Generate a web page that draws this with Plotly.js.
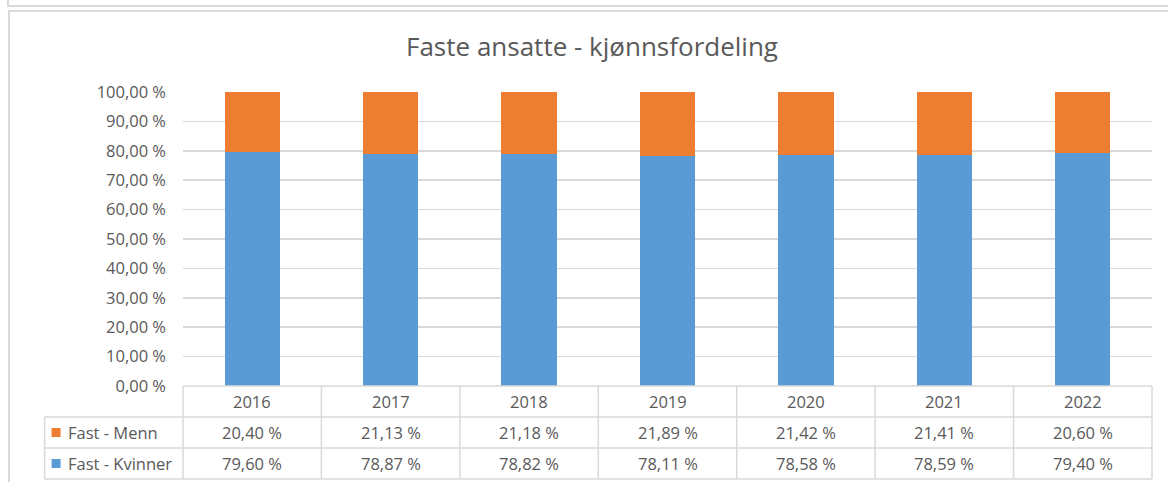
<!DOCTYPE html>
<html>
<head>
<meta charset="utf-8">
<script src="https://cdn.plot.ly/plotly-3.0.1.min.js"></script>
<style>
  body { margin: 0; background: #fff; }
  #wrap { position: relative; width: 1168px; height: 482px; overflow: hidden; }
  #prev { position: absolute; left: 7px; top: -4px; width: 1200px; height: 9px;
          border-left: 2px solid #d9d9d9; border-bottom: 2px solid #d9d9d9; }
  #frame { position: absolute; left: 8px; top: 10px; width: 1200px; height: 520px;
           border: 2px solid #d9d9d9; }
  #chart { position: absolute; left: 0; top: 0; width: 1168px; height: 482px; }
</style>
</head>
<body>
<div id="wrap">
  <div id="prev"></div>
  <div id="frame"></div>
  <div id="chart"></div>
</div>
<script>
// years on the x axis
const years = ['2016', '2017', '2018', '2019', '2020', '2021', '2022'];
// share of permanent employees, per gender
const menn = [0.2040, 0.2113, 0.2118, 0.2189, 0.2142, 0.2141, 0.2060];
const kvinner = [0.7960, 0.7887, 0.7882, 0.7811, 0.7858, 0.7859, 0.7940];
const seriesNames = ['Fast - Menn', 'Fast - Kvinner'];
const yTicks = [0, 0.1, 0.2, 0.3, 0.4, 0.5, 0.6, 0.7, 0.8, 0.9, 1.0];

const blue = '#5b9bd5', orange = '#ed7d31';
const txt = '#595959', grid = '#d9d9d9';
const font = '"Open Sans", Lato, sans-serif';

// norwegian percent format: 78,87 %
const pct = v => (v * 100).toFixed(2).replace('.', ',') + ' %';

// plot area in pixels
const W = 1168, H = 482;
const L = 183, R = 16, T = 92, B = 96;
const plotH = H - T - B;
const rowH = 31;
const py = pix => (H - B - pix) / plotH;   // pixel row -> paper y
const n = years.length;
const px = i => (i + 0.5) / n;              // category index -> paper x

const traces = [
  { type: 'bar', x: years, y: kvinner, name: seriesNames[1],
    marker: { color: blue }, hoverinfo: 'x+y' },
  { type: 'bar', x: years, y: menn, name: seriesNames[0],
    marker: { color: orange }, hoverinfo: 'x+y' }
];

// --- data table under the chart ---
const shapes = [];
const annotations = [];
const line = { color: grid, width: 1.5 };
const hline = (x0, x1, pix) => shapes.push({ type: 'line', xref: 'paper', yref: 'paper',
  x0, x1, y0: py(pix), y1: py(pix), line });
const vline = (x, p0, p1) => shapes.push({ type: 'line', xref: 'paper', yref: 'paper',
  x0: x, x1: x, y0: py(p0), y1: py(p1), line });

const tableTop = H - B;
hline(px(-0.5), px(n - 0.5), tableTop);
for (let r = 1; r <= 3; r++) hline(px(-1.5), px(n - 0.5), tableTop + r * rowH);
vline(px(-1.5), tableTop + rowH, tableTop + 3 * rowH);
for (let i = 0; i <= n; i++) vline(px(i - 0.5), tableTop, tableTop + 3 * rowH);

const cellFont = { family: font, size: 16.5, color: txt };
const rows = [menn, kvinner];
const keyColors = [orange, blue];
years.forEach((yr, i) => {
  annotations.push({ xref: 'paper', yref: 'paper', x: px(i), y: py(tableTop + rowH / 2),
    xanchor: 'center', yanchor: 'middle', text: yr, showarrow: false, font: cellFont });
  rows.forEach((vals, r) => {
    annotations.push({ xref: 'paper', yref: 'paper', x: px(i), y: py(tableTop + rowH * (r + 1.5)),
      xanchor: 'center', yanchor: 'middle', text: pct(vals[i]), showarrow: false, font: cellFont });
  });
});
seriesNames.forEach((name, r) => {
  const yc = py(tableTop + rowH * (r + 1.5));
  annotations.push({ xref: 'paper', yref: 'paper', x: px(-1.5), xshift: 21, xanchor: 'left',
    y: yc, yanchor: 'middle', text: name, showarrow: false, font: cellFont });
  shapes.push({ type: 'rect', xref: 'paper', yref: 'paper', xsizemode: 'pixel', ysizemode: 'pixel',
    xanchor: px(-1.5), yanchor: yc, x0: 7, x1: 16, y0: -4.5, y1: 4.5,
    fillcolor: keyColors[r], line: { width: 0 } });
});

const layout = {
  width: W, height: H,
  margin: { l: L, r: R, t: T, b: B },
  paper_bgcolor: 'rgba(0,0,0,0)',
  plot_bgcolor: 'rgba(0,0,0,0)',
  barmode: 'stack',
  bargap: 0.6,
  showlegend: false,
  title: { text: 'Faste ansatte - kjønnsfordeling', xref: 'container', x: 592 / W,
    xanchor: 'center', yref: 'container', y: 1 - 47 / H, yanchor: 'middle',
    font: { family: font, size: 26, color: txt } },
  xaxis: { type: 'category', range: [-0.5, n - 0.5], showticklabels: false,
    showgrid: false, zeroline: false, showline: false, fixedrange: true },
  yaxis: { range: [0, 1], tickvals: yTicks, ticktext: yTicks.map(pct),
    showgrid: true, gridcolor: grid, gridwidth: 1.5, zeroline: false, showline: false,
    ticks: '', ticklabelstandoff: 16,
    tickfont: { family: font, size: 16.5, color: txt }, fixedrange: true },
  shapes, annotations
};

Plotly.newPlot('chart', traces, layout, { displayModeBar: false, staticPlot: true });
</script>
</body>
</html>
